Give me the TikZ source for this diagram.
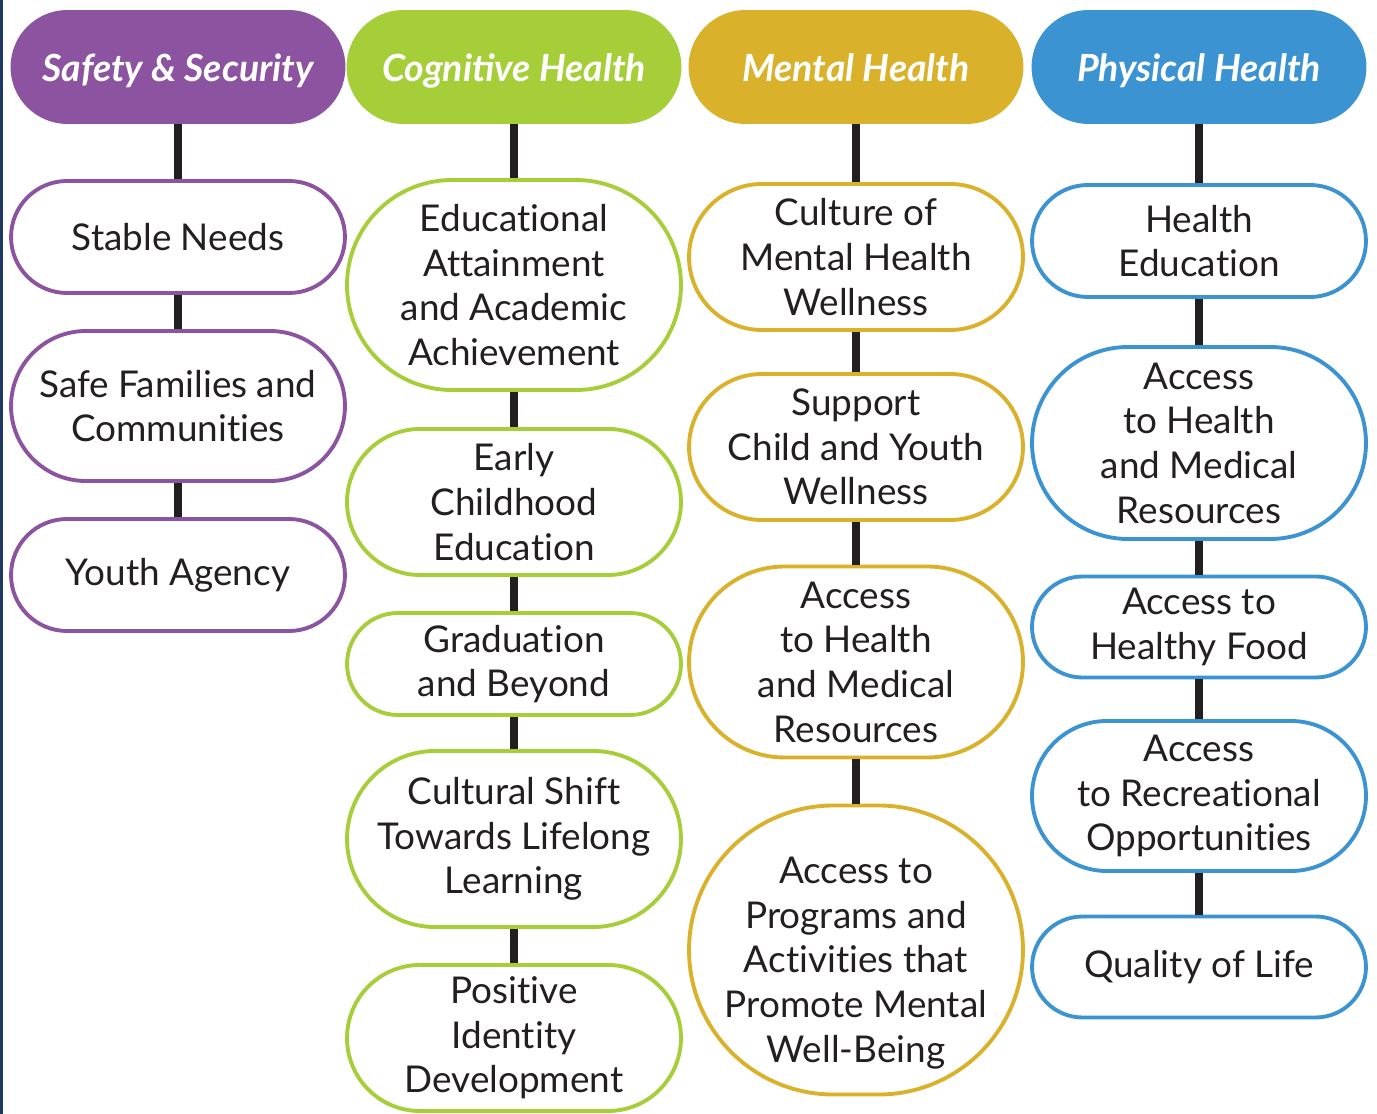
\documentclass[tikz,border=0pt]{standalone}
\usepackage{fontspec}
\setmainfont{Lato}
\newfontfamily\bodyfont{Lato}[Ligatures=NoCommon]
\usepackage{xcolor}
\usepackage{tikz}

\definecolor{safety}{HTML}{8C53A0}
\definecolor{cognitive}{HTML}{A6CE39}
\definecolor{mental}{HTML}{D9B12B}
\definecolor{physical}{HTML}{3B94D1}
\definecolor{ink}{HTML}{231F20}
\definecolor{edge}{HTML}{1F3864}

\tikzset{
  header/.style={fill=#1, text=white, font=\bfseries\itshape\fontsize{21.3}{25}\selectfont,
    text height=17pt, text depth=0pt,
    minimum width=6.7cm, minimum height=2.28cm, rounded corners=1.14cm, inner sep=0pt},
  entry/.style 2 args={draw=#1, fill=white, line width=2.2pt, align=center, text=ink,
    font=\bodyfont\fontsize{21}{25.4}\selectfont, minimum width=6.68cm,
    minimum height={(#2-4)*0.02cm}, rounded corners={(#2-4)*0.01cm}, inner sep=0pt},
  link/.style={draw=ink, line width=4.5pt},
}

\begin{document}
\begin{tikzpicture}[x=0.02cm, y=-0.02cm]
  \useasboundingbox (0,0) rectangle (1377,1114);
  \fill[edge] (0,0) rectangle (3,1114);

  % Safety & Security
  \node[header=safety] (h1) at (178,67) {Safety \& Security};
  \node[entry={safety}{116}] (a1) at (178,237) {Stable Needs};
  \node[entry={safety}{154}] (a2) at (178,406) {Safe Families and\\Communities};
  \node[entry={safety}{116}] (a3) at (178,575) {Youth Agency};

  % Cognitive Health
  \node[header=cognitive] (h2) at (514,67) {Cognitive Health};
  \node[entry={cognitive}{214}] (b1) at (514,285) {Educational\\Attainment\\and Academic\\Achievement};
  \node[entry={cognitive}{150}] (b2) at (514,502) {Early\\Childhood\\Education};
  \node[entry={cognitive}{106}] (b3) at (514,664) {Graduation\\and Beyond};
  \node[entry={cognitive}{180}] (b4) at (514,839) {Cultural Shift\\Towards Lifelong\\Learning};
  \node[entry={cognitive}{150}] (b5) at (514,1038) {Positive\\Identity\\Development};

  % Mental Health
  \node[header=mental] (h3) at (856,67) {Mental Health};
  \node[entry={mental}{150}] (m1) at (856,257) {Culture of\\Mental Health\\Wellness};
  \node[entry={mental}{150}] (m2) at (856,447) {Support\\Child and Youth\\Wellness};
  \node[entry={mental}{195}] (m3) at (856,662) {Access\\to Health\\and Medical\\Resources};
  \node[entry={mental}{293}] (m4) at (856,950) {\rule{0pt}{30pt}Access to\\Programs and\\Activities that\\Promote Mental\\Well-Being};

  % Physical Health
  \node[header=physical] (h4) at (1199,67) {Physical Health};
  \node[entry={physical}{116}] (p1) at (1199,241) {Health\\Education};
  \node[entry={physical}{196}] (p2) at (1199,443) {Access\\to Health\\and Medical\\Resources};
  \node[entry={physical}{105}] (p3) at (1199,627) {Access to\\Healthy Food};
  \node[entry={physical}{154}] (p4) at (1199,796) {Access\\to Recreational\\Opportunities};
  \node[entry={physical}{105}] (p5) at (1199,967) {Quality of Life};

  % connectors
  \foreach \u/\v in {h1/a1,a1/a2,a2/a3,
                     h2/b1,b1/b2,b2/b3,b3/b4,b4/b5,
                     h3/m1,m1/m2,m2/m3,m3/m4,
                     h4/p1,p1/p2,p2/p3,p3/p4,p4/p5}
    \draw[link] (\u.south) -- (\v.north);
\end{tikzpicture}
\end{document}
